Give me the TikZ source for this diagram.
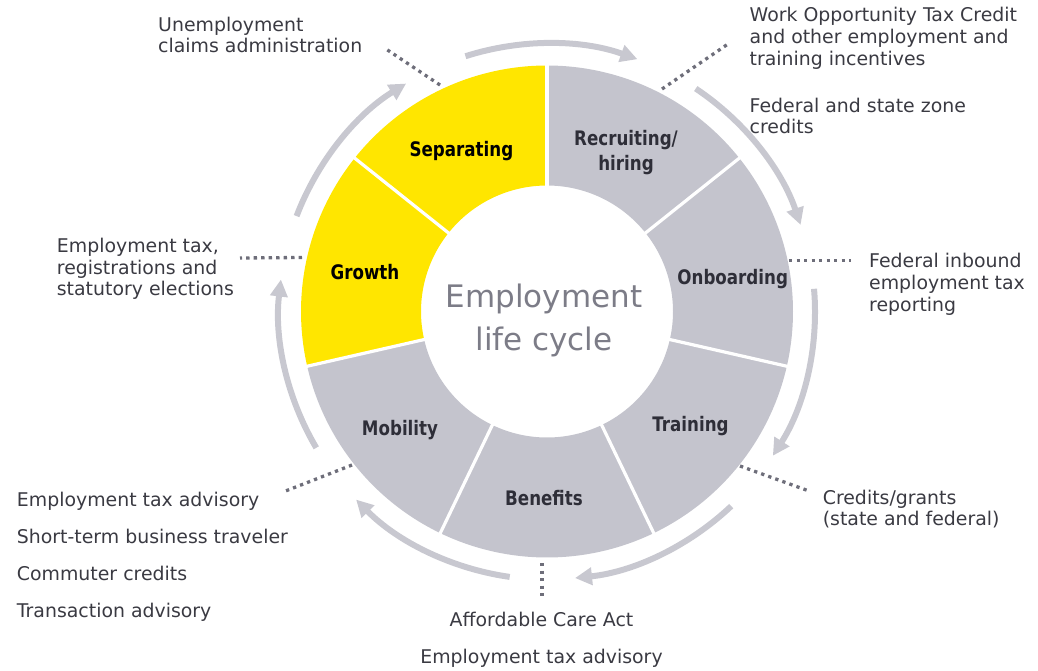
\documentclass[tikz,border=0pt]{standalone}
\usepackage{fontspec}
\setmainfont{DejaVu Sans}
\usepackage{graphicx}
\usetikzlibrary{arrows.meta}
\definecolor{eyyellow}{HTML}{FFE600}
\definecolor{eygray}{HTML}{C4C4CD}
\definecolor{eyarrow}{HTML}{C8C8D0}
\definecolor{eydark}{HTML}{2E2E38}
\definecolor{eymid}{HTML}{6E6E7A}
\definecolor{eytext}{HTML}{3A3A42}
\newcommand\mylns[1]{\begin{tabular}[t]{@{}l@{}}#1\end{tabular}}
\newcommand\myclns[1]{\begin{tabular}[t]{@{}c@{}}#1\end{tabular}}
\newcommand\segtxt[1]{\scalebox{0.835}[1]{#1}}
\tikzset{
  lbl/.style={anchor=base west, inner sep=0pt, text=eytext, font=\fontsize{18.9}{21.8}\selectfont},
  lblc/.style={anchor=base, inner sep=0pt, text=eytext, font=\fontsize{18.9}{21.8}\selectfont},
  seg/.style={anchor=base, inner sep=0pt, text=eydark, font=\bfseries\fontsize{20}{24.8}\selectfont},
  segy/.style={seg, text=black},
  ctr/.style={anchor=base, inner sep=0pt, text=eymid!90!white, font=\fontsize{31}{43}\selectfont},
  cyc/.style={line width=6pt, eyarrow, -{Triangle[length=17pt,width=17pt]}},
  leader/.style={line width=3.3pt, eymid, dash pattern=on 3.3pt off 4.2pt},
  sepline/.style={white, line width=3.2pt},
}
\begin{document}
\begin{tikzpicture}[x=1pt,y=-1pt]
\useasboundingbox (0,0) rectangle (1038,670);
% wheel
\begin{scope}[shift={(547,311.5)}, y=1pt]
  \foreach \a/\col in {38.571/eygray, 90/eyyellow, 141.429/eyyellow, 192.857/eygray, 244.286/eygray, 295.714/eygray, 347.143/eygray}
    \fill[\col] (\a:246) arc[start angle=\a, end angle=\a+51.429, radius=246]
      -- (\a+51.429:126) arc[start angle=\a+51.429, end angle=\a, radius=126] -- cycle;
  \foreach \a in {38.571, 90, 141.429, 192.857, 244.286, 295.714, 347.143}
    \draw[sepline] (\a:120) -- (\a:250);
  \foreach \c in {115.714, 64.286, 12.857, -38.571, -90, -141.429, -192.857}
    \draw[cyc] (\c-8:268) arc[start angle=\c-8, end angle=\c-45.429, radius=268];
\end{scope}
% segment labels
\node[segy] (sep) at (461.4,156.2) {\segtxt{Separating}};
\node[seg] (rec) at (626,145.9) {\segtxt{\myclns{Recruiting/\\hiring}}};
\node[segy] (gro) at (365,279.3) {\segtxt{Growth}};
\node[seg] (onb) at (732.7,284.5) {\segtxt{Onboarding}};
\node[seg] (mob) at (400,435.5) {\segtxt{Mobility}};
\node[seg] (tra) at (690.5,431) {\segtxt{Training}};
\node[seg] (ben) at (544,505) {\segtxt{Benefits}};
\node[ctr] (center) at (544,307) {\myclns{Employment\\life cycle}};
% outer labels
\node[lbl] (unemp) at (158,31) {\mylns{Unemployment\\claims administration}};
\node[lbl] (wotc) at (749.5,21.5) {\mylns{Work Opportunity Tax Credit\\and other employment and\\training incentives}};
\node[lbl] (zone) at (749.5,112) {\mylns{Federal and state zone\\credits}};
\node[lbl] (etax) at (56.7,252.3) {\mylns{Employment tax,\\registrations and\\statutory elections}};
\node[lbl] (fib) at (869,267.5) {\mylns{Federal inbound\\employment tax\\reporting}};
\node[lbl] (cred) at (822.6,504) {\mylns{Credits/grants\\(state and federal)}};
\node[lbl] (m1) at (16.7,506.7) {Employment tax advisory};
\node[lbl] (m2) at (16.7,543.3) {Short-term business traveler};
\node[lbl] (m3) at (16.7,580) {Commuter credits};
\node[lbl] (m4) at (16.7,617.7) {Transaction advisory};
\node[lblc] (b1) at (541.5,626.7) {Affordable Care Act};
\node[lblc] (b2) at (541.5,663) {Employment tax advisory};
% leaders
\coordinate (lu1) at (440,85);   \coordinate (lu2) at (386,49);
\coordinate (lw1) at (662,89);   \coordinate (lw2) at (728,44);
\coordinate (lf1) at (789,260.5);  \coordinate (lf2) at (851,260.5);
\coordinate (lc1) at (740,466);  \coordinate (lc2) at (809,491);
\coordinate (la1) at (542,563);  \coordinate (la2) at (542,597);
\coordinate (lm1) at (352,465);  \coordinate (lm2) at (283,492);
\coordinate (le1) at (302,257.5);  \coordinate (le2) at (240,258);
\draw[leader] (lu1) -- (lu2);
\draw[leader] (lw1) -- (lw2);
\draw[leader] (lf1) -- (lf2);
\draw[leader] (lc1) -- (lc2);
\draw[leader] (la1) -- (la2);
\draw[leader] (lm1) -- (lm2);
\draw[leader] (le1) -- (le2);
\end{tikzpicture}
\end{document}
